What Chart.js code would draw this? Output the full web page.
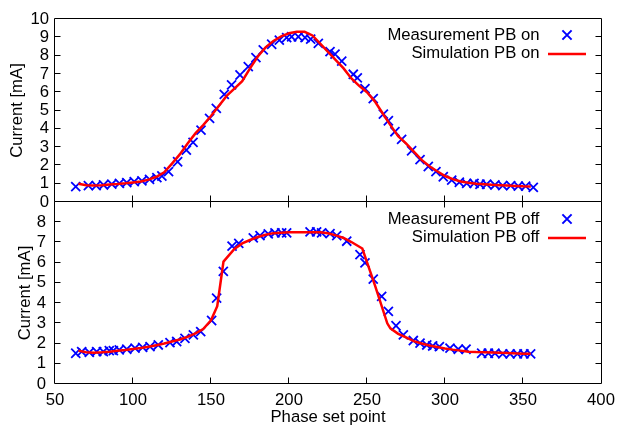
<!DOCTYPE html>
<html><head><meta charset="utf-8">
<script src="https://cdn.jsdelivr.net/npm/chart.js@4.4.1/dist/chart.umd.min.js"></script>
<style>html,body{margin:0;padding:0;background:#fff;width:618px;height:426px;overflow:hidden}canvas{position:absolute;left:0;top:0}</style>
</head><body>
<canvas id="cTop" width="618" height="426"></canvas>
<canvas id="cBot" width="618" height="426"></canvas>
<script>
// ---- data ----
const xTickValues = [50,100,150,200,250,300,350,400];
const yTopTicks = [0,1,2,3,4,5,6,7,8,9,10];
const yBotTicks = [0,1,2,3,4,5,6,7,8];

const measOnX = [63.3,71.4,76.4,81.1,86.4,91.3,96,100.8,105.7,110.6,115.3,118.5,122.8,128.6,134.2,138.5,143.6,149.1,153.4,158.5,163.2,168.6,173.9,178.8,183.5,188.9,193.8,198.5,201.7,206,210.3,213.9,218.8,226.3,229.5,233.8,241.2,243.8,248.7,254,260.5,263.7,267.9,272.2,278.6,284,289.3,294.2,298.9,304.3,309.2,313.9,318.6,322.4,326.7,332,337,342.1,347,351.7,356.6];
const measOnY = [0.84,0.89,0.89,0.93,0.98,1.02,1.06,1.11,1.15,1.24,1.33,1.42,1.66,2.2,2.84,3.26,3.93,4.57,5.12,5.88,6.4,6.94,7.4,7.89,8.31,8.62,8.85,8.98,9.03,9.03,8.98,8.9,8.67,8.22,8.08,7.7,6.98,6.78,6.19,5.65,4.8,4.44,3.84,3.42,2.8,2.32,1.94,1.66,1.38,1.2,1.08,1.02,1.02,0.97,0.97,0.93,0.89,0.89,0.87,0.87,0.8];

const simOnX = [65,70,75,80,85,90,95,100,105,110,115,120,125,130,135,140,145,150,155,160,165,170,175,180,185,190,195,200,205,210,215,220,225,230,235,240,245,250,255,260,265,270,275,280,285,290,295,300,305,310,315,320,325,330,335,340,345,350,355];
const simOnY = [1.0,0.92,0.9,0.92,0.95,0.98,1.02,1.07,1.12,1.22,1.38,1.62,2.1,2.6,3.2,3.75,4.2,4.7,5.25,5.8,6.2,6.6,7.3,7.95,8.45,8.8,9.05,9.22,9.3,9.3,9.1,8.65,8.2,7.75,7.3,6.75,6.35,6.0,5.5,4.85,4.2,3.6,3.2,2.75,2.3,1.95,1.68,1.42,1.25,1.12,1.05,1.0,0.97,0.94,0.92,0.9,0.88,0.86,0.85];

const measOffX = [63.3,67.1,72,76.7,81,84.8,87.4,91.2,96,101.3,106.2,110.9,116.2,123.7,128,133.3,138.7,143.4,150.4,153.6,157.9,163.5,167.8,177.1,181.4,186.7,191,195.3,198.5,213.5,217.7,220.9,226.3,230.6,237,245.5,248.7,254,259.4,263.7,268.6,273.3,279.7,284,288.3,292.1,296.4,303.2,308.5,313.5,323.5,327.8,332,337,341.7,346.4,350.6,354.9];
const measOffY = [1.52,1.6,1.56,1.6,1.6,1.65,1.65,1.69,1.72,1.77,1.81,1.85,1.93,2.05,2.1,2.26,2.43,2.59,3.14,4.25,5.57,6.82,6.95,7.23,7.34,7.42,7.47,7.47,7.47,7.52,7.52,7.47,7.44,7.34,7.06,6.4,5.99,5.19,4.33,3.59,2.88,2.43,2.15,2.02,1.93,1.88,1.85,1.77,1.72,1.72,1.52,1.52,1.52,1.49,1.49,1.49,1.49,1.49];

const simOffX = [65,70,75,80,85,90,95,100,105,110,115,120,125,130,135,140,145,150,154,158,165,170,175,180,185,190,200,210,220,225,230,235,240,247,255,263,265,270,275,280,285,290,295,300,305,310,315,320,330,340,350,355];
const simOffY = [1.65,1.57,1.55,1.57,1.6,1.64,1.68,1.73,1.78,1.84,1.92,2.0,2.1,2.2,2.33,2.5,2.72,3.15,3.85,6.05,6.68,6.95,7.12,7.27,7.38,7.46,7.5,7.5,7.5,7.45,7.35,7.22,7.02,6.7,4.9,3.0,2.75,2.48,2.3,2.12,2.0,1.9,1.83,1.76,1.7,1.65,1.6,1.58,1.56,1.53,1.5,1.49];

const labelsTop = ['Measurement PB on','Simulation PB on'];
const labelsBot = ['Measurement PB off','Simulation PB off'];

// ---- helpers ----
const pts = (xs, ys) => xs.map((x, i) => ({x, y: ys[i]}));
const FONT = "'Liberation Sans', Arial, sans-serif";
const FS = 16.7;
Chart.defaults.font.family = FONT;
Chart.defaults.font.size = FS;
Chart.defaults.color = '#000';

const BLUE = '#0000ff', RED = '#ff0000';

function crossAt(ctx, x, y, r) {
  ctx.beginPath();
  ctx.moveTo(x - r, y - r); ctx.lineTo(x + r, y + r);
  ctx.moveTo(x - r, y + r); ctx.lineTo(x + r, y - r);
  ctx.stroke();
}

const framePlugin = {
  id: 'frame',
  afterDatasetsDraw(chart, args, o) {
    const {ctx, chartArea: a, scales} = chart;
    const L = Math.round(a.left) - 0.5, R = Math.round(a.right) + 0.5;
    const T = Math.round(a.top) - 0.5, B = Math.round(a.bottom) - 0.5;
    ctx.save();
    ctx.strokeStyle = '#000';
    ctx.lineWidth = 1;
    ctx.beginPath();
    ctx.rect(L, T, R - L, B - T);
    const tl = 6;
    o.yTicks.forEach(v => {
      if (v <= scales.y.min || v >= scales.y.max) return;
      const y = Math.round(scales.y.getPixelForValue(v)) - 0.5;
      ctx.moveTo(L, y); ctx.lineTo(L + tl, y);
      ctx.moveTo(R, y); ctx.lineTo(R - tl, y);
    });
    xTickValues.forEach(v => {
      if (v <= scales.x.min || v >= scales.x.max) return;
      const x = Math.round(scales.x.getPixelForValue(v)) - 0.5;
      if (o.xBottom) { ctx.moveTo(x, B); ctx.lineTo(x, B - tl); }
      if (o.xTop) { ctx.moveTo(x, T); ctx.lineTo(x, T + tl); }
    });
    ctx.stroke();
    ctx.restore();
  },
  afterDraw(chart, args, o) {
    const {ctx} = chart;
    const ds = chart.data.datasets;
    ctx.save();
    ctx.font = FS + 'px ' + FONT;
    ctx.fillStyle = '#000';
    ctx.textAlign = 'right';
    ctx.textBaseline = 'middle';
    const tx = 539.5, y0 = o.legendY, dy = o.legendDy;
    ctx.fillText(ds[0].label, tx, y0);
    ctx.fillText(ds[1].label, tx, y0 + dy);
    ctx.strokeStyle = BLUE; ctx.lineWidth = 2;
    crossAt(ctx, 567, y0, 4.6);
    ctx.strokeStyle = RED; ctx.lineWidth = 2.5;
    ctx.beginPath(); ctx.moveTo(548, y0 + dy + 0.5); ctx.lineTo(586, y0 + dy + 0.5); ctx.stroke();
    ctx.restore();
  }
};

function makeChart(id, cfg) {
  const measDs = {
    label: cfg.labels[0], data: pts(cfg.mx, cfg.my), showLine: false,
    pointStyle: 'crossRot', pointRadius: 6.4, pointBorderWidth: 1.8,
    borderColor: BLUE, backgroundColor: BLUE, order: 2
  };
  const simDs = {
    label: cfg.labels[1], data: pts(cfg.sx, cfg.sy), showLine: true,
    borderColor: RED, backgroundColor: RED, borderWidth: 2.5,
    pointRadius: 0, tension: 0, order: 1
  };
  return new Chart(document.getElementById(id), {
    type: 'scatter',
    data: {datasets: [measDs, simDs]},
    options: {
      responsive: false, animation: false, devicePixelRatio: 1,
      layout: {padding: cfg.padding},
      plugins: {
        legend: {display: false}, tooltip: {enabled: false},
        frame: cfg.frame
      },
      scales: {
        x: {
          type: 'linear', min: 50, max: 400,
          display: cfg.showX,
          afterBuildTicks: s => { s.ticks = xTickValues.map(v => ({value: v})); },
          afterFit: s => { s.height = cfg.xHeight; s.paddingLeft = 0; s.paddingRight = 0; },
          grid: {display: false, drawTicks: false, tickLength: 0},
          border: {display: false},
          ticks: {padding: cfg.xPad, maxRotation: 0, autoSkip: false, font: {size: FS}},
          title: {display: cfg.showX, text: 'Phase set point', font: {size: FS, lineHeight: 1}, padding: {top: 0, bottom: 0}}
        },
        y: {
          type: 'linear', min: 0, max: cfg.yMax,
          afterBuildTicks: s => { s.ticks = cfg.yTicks.map(v => ({value: v})); },
          afterFit: s => { s.width = 55; s.paddingTop = 0; s.paddingBottom = 0; },
          grid: {display: false, drawTicks: false, tickLength: 0},
          border: {display: false},
          ticks: {padding: cfg.yPad, autoSkip: false, font: {size: FS}},
          title: {display: true, text: 'Current [mA]', font: {size: FS, lineHeight: 1.2}, padding: {top: cfg.yTitlePad, bottom: 0}}
        }
      }
    },
    plugins: [framePlugin]
  });
}

makeChart('cTop', {
  labels: labelsTop, mx: measOnX, my: measOnY, sx: simOnX, sy: simOnY,
  padding: {left: 0, right: 17, top: 19, bottom: 224},
  showX: false, xHeight: 0, xPad: 0, yMax: 10, yTicks: yTopTicks, yPad: 6, yTitlePad: 7,
  frame: {yTicks: yTopTicks, xBottom: true, xTop: false, legendY: 35, legendDy: 18.5}
});
makeChart('cBot', {
  labels: labelsBot, mx: measOffX, my: measOffY, sx: simOffX, sy: simOffY,
  padding: {left: 0, right: 17, top: 202, bottom: 0},
  showX: true, xHeight: 42, xPad: 6, yMax: 9, yTicks: yBotTicks, yPad: 9, yTitlePad: 15,
  frame: {yTicks: yBotTicks, xBottom: true, xTop: true, legendY: 219, legendDy: 18.5}
});
</script>
</body></html>
